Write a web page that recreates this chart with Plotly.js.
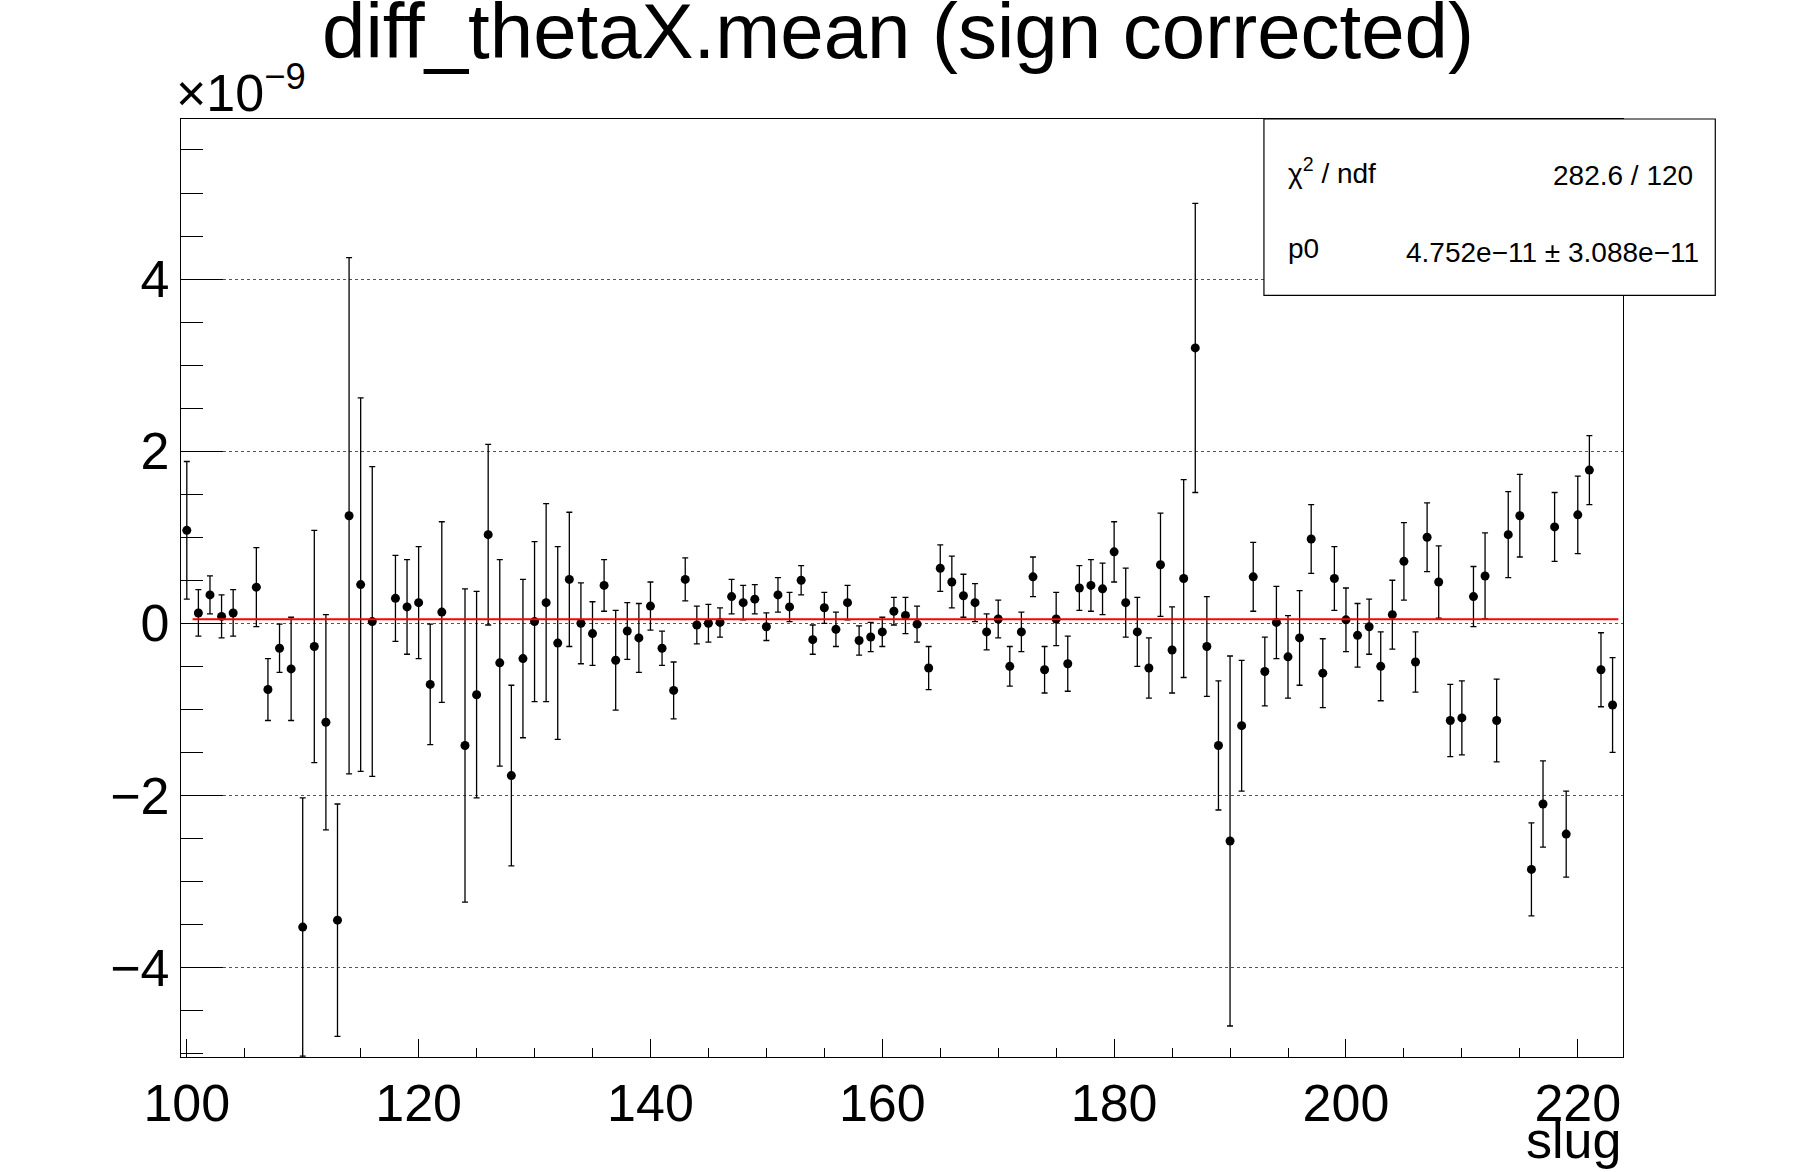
<!DOCTYPE html>
<html><head><meta charset="utf-8">
<script src="https://cdn.plot.ly/plotly-3.0.1.min.js"></script>
<style>body{margin:0;background:#fff}</style></head>
<body><div id="c" style="width:1796px;height:1172px"></div>
<script>
const slug = [100,101,102,103,104,106,107,108,109,110,111,112,113,114,115,116,118,119,120,121,122,124,125,126,127,128,129,130,131,132,133,134,135,136,137,138,139,140,141,142,143,144,145,146,147,148,149,150,151,152,153,154,155,156,157,158,159,160,161,162,163,164,165,166,167,168,169,170,171,172,173,174,175,176,177,178,179,180,181,182,183,184,185,186,187,188,189,190,191,192,193,194,195,196,197,198,199,200,201,202,203,204,205,206,207,208,209,210,211,212,213,214,215,216,217,218,219,220,221,222,223];
const meanVal = [1.08,0.12,0.33,0.08,0.12,0.42,-0.77,-0.29,-0.53,-3.53,-0.27,-1.15,-3.45,1.25,0.45,0.02,0.29,0.19,0.24,-0.71,0.13,-1.42,-0.83,1.03,-0.46,-1.77,-0.41,0.02,0.24,-0.23,0.51,0.0,-0.12,0.44,-0.43,-0.09,-0.17,0.2,-0.29,-0.78,0.51,-0.02,0.0,0.01,0.31,0.24,0.28,-0.04,0.33,0.19,0.5,-0.19,0.18,-0.07,0.24,-0.2,-0.16,-0.1,0.14,0.09,-0.01,-0.52,0.64,0.48,0.32,0.24,-0.1,0.05,-0.5,-0.1,0.54,-0.54,0.05,-0.47,0.41,0.44,0.4,0.83,0.24,-0.1,-0.52,0.68,-0.31,0.52,3.2,-0.27,-1.42,-2.53,-1.19,0.54,-0.56,0.01,-0.39,-0.17,0.98,-0.58,0.52,0.04,-0.14,-0.04,-0.5,0.1,0.72,-0.45,1.0,0.48,-1.13,-1.1,0.31,0.55,-1.13,1.03,1.25,-2.86,-2.1,1.12,-2.45,1.26,1.78,-0.54,-0.95];
const meanErr = [0.8,0.27,0.22,0.25,0.27,0.46,0.36,0.28,0.6,1.5,1.35,1.25,1.35,3.0,2.17,1.8,0.5,0.55,0.65,0.7,1.05,1.82,1.2,1.05,1.2,1.05,0.92,0.93,1.15,1.12,0.78,0.47,0.37,0.3,0.58,0.33,0.4,0.28,0.2,0.33,0.25,0.22,0.22,0.17,0.2,0.2,0.17,0.16,0.2,0.17,0.17,0.17,0.18,0.2,0.2,0.17,0.17,0.17,0.16,0.21,0.21,0.25,0.27,0.3,0.25,0.22,0.21,0.22,0.23,0.23,0.23,0.27,0.31,0.32,0.26,0.3,0.3,0.35,0.4,0.4,0.35,0.6,0.5,1.15,1.68,0.58,0.75,2.15,0.76,0.4,0.4,0.42,0.48,0.55,0.4,0.4,0.37,0.37,0.37,0.32,0.4,0.4,0.45,0.35,0.4,0.42,0.42,0.43,0.35,0.5,0.48,0.5,0.48,0.54,0.5,0.4,0.5,0.45,0.4,0.43,0.55];
const fitX = [100.5,223.5];
const p0 = 0.04752;
const F = 'Liberation Sans, Arial, sans-serif';
const data = [
 {x:slug,y:meanVal,type:'scatter',mode:'markers',marker:{color:'#000',size:9},
  error_y:{type:'data',array:meanErr,visible:true,color:'#000',thickness:1.3,width:3},hoverinfo:'x+y'},
 {x:fitX,y:[p0,p0],type:'scatter',mode:'lines',line:{color:'#ff0000',width:2}}
];
const layout = {
 width:1796,height:1172,showlegend:false,paper_bgcolor:'#fff',plot_bgcolor:'#fff',
 margin:{l:181,r:173,t:119,b:115},
 title:{text:'diff_thetaX.mean (sign corrected)',font:{family:F,size:78,color:'#000'},x:0.5,xanchor:'center',y:0.997,yanchor:'top'},
 xaxis:{range:[99.5,223.9],tickvals:[100,120,140,160,180,200,220],ticks:'inside',ticklen:18,tickcolor:'#000',
  minor:{dtick:5,tick0:100,ticks:'inside',ticklen:9,tickcolor:'#000'},
  tickfont:{family:F,size:52,color:'#000'},showgrid:false,zeroline:false,showline:true,linecolor:'#000',mirror:true,linewidth:1.2},
 yaxis:{range:[-5.04,5.86],tickvals:[-4,-2,0,2,4],ticktext:['\u22124','\u22122','0','2','4'],ticks:'inside',ticklen:42,tickcolor:'#000',
  minor:{dtick:0.5,tick0:0,ticks:'inside',ticklen:22,tickcolor:'#000'},
  tickfont:{family:F,size:52,color:'#000'},showgrid:true,gridcolor:'#555',griddash:'dot',gridwidth:1,zeroline:false,
  showline:true,linecolor:'#000',mirror:true,linewidth:1.2},
 shapes:[{type:'rect',xref:'paper',yref:'paper',x0:0.751,x1:1.064,y0:0.812,y1:1.0,fillcolor:'#fff',line:{color:'#000',width:1.2},layer:'above'}],
 annotations:[
  {xref:'paper',yref:'paper',x:-0.005,y:0.995,xanchor:'left',yanchor:'bottom',showarrow:false,text:'\u00d710<sup>\u22129</sup>',font:{family:F,size:52,color:'#000'}},
  {xref:'paper',yref:'paper',x:1.0,y:-0.055,xanchor:'right',yanchor:'top',showarrow:false,text:'slug',font:{family:F,size:52,color:'#000'}},
  {xref:'paper',yref:'paper',x:0.766,y:0.945,xanchor:'left',yanchor:'middle',showarrow:false,text:'\u03c7<sup>2</sup> / ndf',font:{family:F,size:28,color:'#000'}},
  {xref:'paper',yref:'paper',x:1.05,y:0.94,xanchor:'right',yanchor:'middle',showarrow:false,text:'282.6 / 120',font:{family:F,size:28,color:'#000'}},
  {xref:'paper',yref:'paper',x:0.766,y:0.862,xanchor:'left',yanchor:'middle',showarrow:false,text:'p0',font:{family:F,size:28,color:'#000'}},
  {xref:'paper',yref:'paper',x:1.054,y:0.858,xanchor:'right',yanchor:'middle',showarrow:false,text:'4.752e\u221211 \u00b1 3.088e\u221211',font:{family:F,size:28,color:'#000'}}
 ]
};
Plotly.newPlot('c',data,layout,{displayModeBar:false});
</script></body></html>
